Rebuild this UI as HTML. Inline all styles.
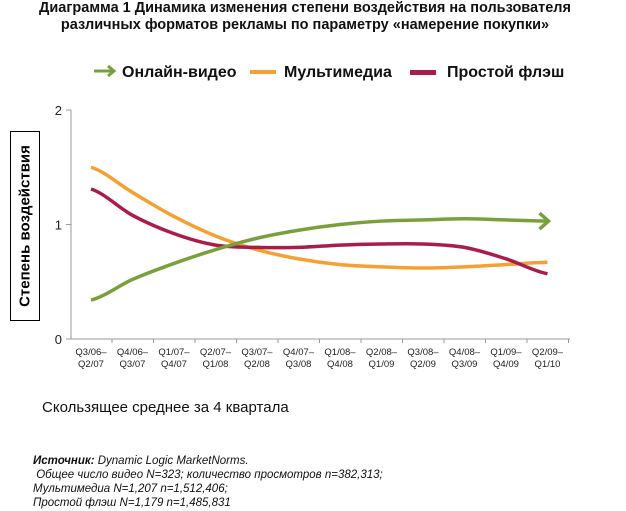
<!DOCTYPE html>
<html><head><meta charset="utf-8"><style>
body{margin:0;background:#fff;width:626px;height:511px;overflow:hidden;font-family:"Liberation Sans",sans-serif}
.t{position:absolute}
</style></head><body>
<div class="t" style="left:-8px;top:0;width:626px;text-align:center;font-weight:bold;font-size:14.5px;line-height:17px;color:#111">Диаграмма 1 Динамика изменения степени воздействия на пользователя<br>различных форматов рекламы по параметру «намерение покупки»</div>
<div class="t" style="left:0;top:60px;width:626px;height:30px;font-weight:bold;font-size:16px;color:#111">
<svg class="t" style="left:92px;top:4px" width="26" height="14"><path d="M2 7H22M16 2L22 7L16 12" stroke="#7aa03c" stroke-width="3" fill="none"/></svg>
<span class="t" style="left:122px;top:4px">Онлайн-видео</span>
<div class="t" style="left:250px;top:10px;width:26px;height:4px;background:#f5a033"></div>
<span class="t" style="left:284px;top:4px">Мультимедиа</span>
<div class="t" style="left:410px;top:10px;width:26px;height:5px;background:#a81d4a"></div>
<span class="t" style="left:447px;top:4px">Простой флэш</span>
</div>
<div class="t" style="left:10px;top:131px;width:28px;height:188px;border:1px solid #000;"><div style="position:absolute;left:14px;top:94px;transform:translate(-50%,-50%) rotate(-90deg);white-space:nowrap;font-weight:bold;font-size:15px">Степень воздействия</div></div>
<svg id="c" class="t" style="left:0;top:0" width="626" height="400"></svg>
<div class="t" style="left:42px;top:399px;font-size:15px;color:#111">Скользящее среднее за 4 квартала</div>
<div class="t" style="left:33px;top:454px;font-size:11.5px;font-style:italic;line-height:14px;color:#111"><b>Источник:</b> Dynamic Logic MarketNorms.<br>&nbsp;Общее число видео N=323; количество просмотров n=382,313;<br>Мультимедиа N=1,207 n=1,512,406;<br>Простой флэш N=1,179 n=1,485,831</div>
<script>
const categories=[["Q3/06–","Q2/07"],["Q4/06–","Q3/07"],["Q1/07–","Q4/07"],["Q2/07–","Q1/08"],["Q3/07–","Q2/08"],["Q4/07–","Q3/08"],["Q1/08–","Q4/08"],["Q2/08–","Q1/09"],["Q3/08–","Q2/09"],["Q4/08–","Q3/09"],["Q1/09–","Q4/09"],["Q2/09–","Q1/10"]];
const onlineVideo=[0.34,0.52,0.66,0.78,0.88,0.95,1.0,1.03,1.04,1.05,1.04,1.03];
const multimedia=[1.5,1.28,1.07,0.9,0.78,0.7,0.65,0.63,0.62,0.63,0.65,0.67];
const flash=[1.31,1.08,0.92,0.82,0.80,0.80,0.82,0.83,0.83,0.80,0.70,0.57];
const yTicks=[0,1,2];
const svg=document.getElementById('c');const NS='http://www.w3.org/2000/svg';
function x(i){return 91+i*41.5;}
function y(v){return 339-v*114.5;}
function el(t,a,name){const e=document.createElementNS(NS,t);for(const k in a)e.setAttribute(k,a[k]);


svg.appendChild(e);return e;}
el('line',{x1:71,y1:y(2),x2:71,y2:339,stroke:'#999'},'y-axis');
el('line',{x1:71,y1:339,x2:570,y2:339,stroke:'#999'},'x-axis');
yTicks.forEach(v=>{el('line',{x1:66,y1:y(v),x2:71,y2:y(v),stroke:'#999'},'y-tick');
const t=el('text',{x:62,y:y(v)+5,'text-anchor':'end','font-size':13,fill:'#222'},'y-tick-label');t.textContent=v;});
categories.forEach((c,i)=>{el('line',{x1:x(i)+21,y1:339,x2:x(i)+21,y2:343,stroke:'#999'},'x-tick');
c.forEach((s,j)=>{const t=el('text',{x:x(i),y:355+j*12,'text-anchor':'middle','font-size':9.5,fill:'#222'},'x-tick-label');t.textContent=s;});});
function path(d){let p=`M${x(0)},${y(d[0])}`;for(let i=0;i<d.length-1;i++){const p0=d[Math.max(0,i-1)],p1=d[i],p2=d[i+1],p3=d[Math.min(d.length-1,i+2)];
p+=` C${x(i)+41.5/3},${y(p1+(p2-p0)/6)} ${x(i+1)-41.5/3},${y(p2-(p3-p1)/6)} ${x(i+1)},${y(p2)}`;}return p;}
el('path',{d:path(multimedia),stroke:'#f5a033','stroke-width':3.5,fill:'none'},'multimedia-line');
el('path',{d:path(flash),stroke:'#a81d4a','stroke-width':3.5,fill:'none'},'flash-line');
el('path',{d:path(onlineVideo),stroke:'#7aa03c','stroke-width':3.5,fill:'none'},'online-video-line');
const n=onlineVideo.length-1;
el('path',{d:`M${x(n)-8},${y(onlineVideo[n])-8} L${x(n)+1},${y(onlineVideo[n])} L${x(n)-8},${y(onlineVideo[n])+8}`,stroke:'#7aa03c','stroke-width':3.5,fill:'none'},'online-video-arrowhead');
</script>
</body></html>
